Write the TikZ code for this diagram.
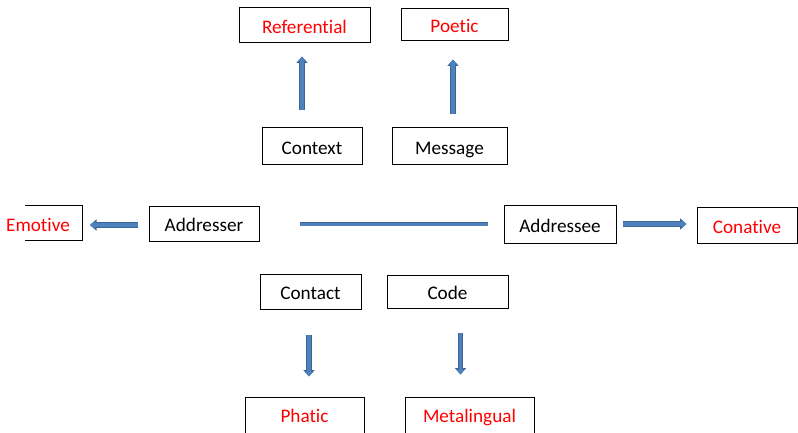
\documentclass[tikz,border=0pt]{standalone}
\usepackage{fontspec}
\setmainfont[RawFeature={-liga;-clig;-calt;-dlig}]{Carlito}
\usetikzlibrary{arrows.meta}
\definecolor{afill}{HTML}{4F81BD}
\definecolor{aborder}{HTML}{3A6797}
\definecolor{fred}{HTML}{FF0000}
\tikzset{
  box/.style={draw=black, line width=1pt, fill=white, inner sep=0pt, text height=16pt, text depth=0pt,
    font=\fontsize{19.2}{21}\selectfont},
  fn/.style={box, text=fred},
  barrow/.style={draw=afill, line width=3.6pt, -{Triangle[length=5pt,width=8.5pt,fill=afill]},
    preaction={draw=aborder, line width=5.2pt, -{Triangle[length=6.5pt,width=11pt,fill=aborder]}}},
  bbar/.style={draw=afill, line width=3pt, preaction={draw=aborder, line width=4.6pt}},
}
\begin{document}
\begin{tikzpicture}[x=1pt,y=-1pt]
\useasboundingbox (0,0) rectangle (798,433);
% function boxes
\node[fn, minimum width=131pt, minimum height=35pt] (ref) at (304.5,25.5) {Referential};
\node[fn, minimum width=107pt, minimum height=32pt] (poe) at (454.5,25) {Poetic};
\node[fn, minimum width=100pt, minimum height=36pt] (con) at (747,225) {Conative};
\node[fn, minimum width=119pt, minimum height=50pt, text height=8pt, text depth=8pt] (pha) at (304.5,422) {Phatic};
\node[fn, minimum width=129pt, minimum height=50pt, text height=8pt, text depth=8pt] (met) at (469.5,422) {Metalingual};
% factor boxes
\node[box, minimum width=100pt, minimum height=37pt] (ctx) at (312,146.5) {Context};
\node[box, minimum width=115pt, minimum height=37pt] (msg) at (449.5,146.5) {Message};
\node[box, minimum width=110pt, minimum height=35pt] (adr) at (204,223.5) {Addresser};
\node[box, minimum width=112pt, minimum height=38pt] (ade) at (560,224) {Addressee};
\node[box, minimum width=101pt, minimum height=35pt] (cnt) at (310.5,291.5) {Contact};
\node[box, minimum width=121pt, minimum height=33pt] (cod) at (447.5,291.5) {Code};
% emotive (cut at left edge)
\draw[line width=1pt] (25,205) -| (82,240) -- (25,240);
\node[fn, draw=none, fill=none] (emo) at (38,223) {Emotive};
\coordinate (emoE) at (82,225);
% connectors
\draw[barrow, shorten <=17pt, shorten >=13pt] ([xshift=-10pt]ctx.north) -- ([xshift=-2.5pt]ref.south);
\draw[barrow, shorten <=13pt, shorten >=18pt] ([xshift=3.5pt]msg.north) -- ([xshift=-1.5pt]poe.south);
\draw[barrow, shorten <=25pt, shorten >=20pt] ([xshift=-1.5pt]cnt.south) -- ([xshift=4.5pt]pha.north);
\draw[barrow, shorten <=24pt, shorten >=22pt] ([xshift=13pt]cod.south) -- ([xshift=-9pt]met.north);
\draw[barrow, shorten <=11pt, shorten >=8pt] (emoE -| adr.west) -- (emoE);
\draw[barrow, shorten <=6pt, shorten >=10pt] (ade.east) -- (con.west |- ade.east);
\draw[bbar, shorten <=40pt, shorten >=16pt] (adr.east |- ade.west) -- (ade.west);
\end{tikzpicture}
\end{document}
